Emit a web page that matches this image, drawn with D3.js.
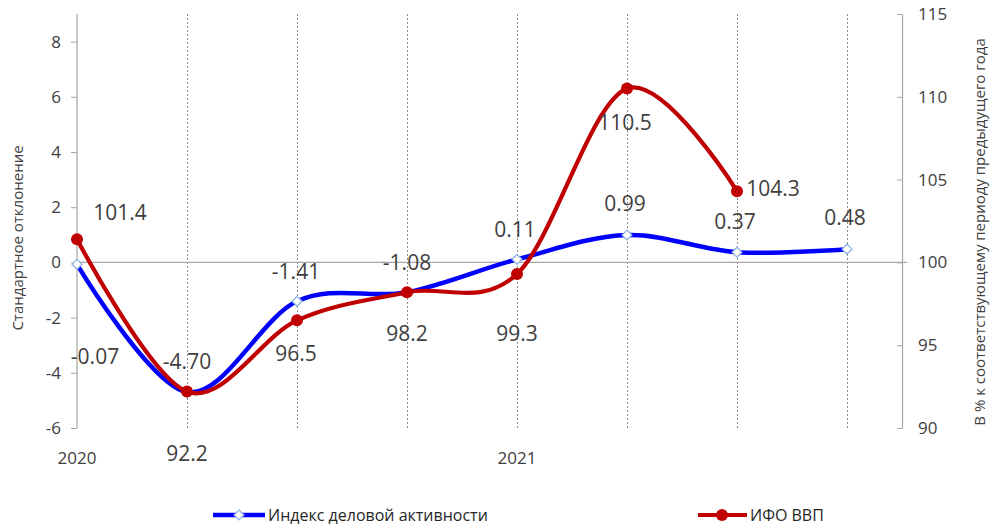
<!DOCTYPE html>
<html>
<head>
<meta charset="utf-8">
<script src="https://cdn.jsdelivr.net/npm/d3@7"></script>
<style>
  html, body { margin: 0; padding: 0; background: #fff; }
  svg { display: block; font-family: "Open Sans", "Noto Sans", sans-serif; }
</style>
</head>
<body>
<svg id="chart" width="993" height="529"></svg>
<script>
// Quarterly series, 2020 Q1 .. 2021 Q4
const quarters = [0, 1, 2, 3, 4, 5, 6, 7];
const yearLabels = [{ q: 0, text: "2020" }, { q: 4, text: "2021" }];

// Business activity index (standard deviation, left axis)
const activityIndex = [-0.07, -4.70, -1.41, -1.08, 0.11, 0.99, 0.37, 0.48];
const activityLabels = ["-0.07", "-4.70", "-1.41", "-1.08", "0.11", "0.99", "0.37", "0.48"];

// GDP physical volume index (% of same period last year, right axis)
const gdpIndex = [101.4, 92.2, 96.5, 98.2, 99.3, 110.5, 104.3];
const gdpLabels = ["101.4", "92.2", "96.5", "98.2", "99.3", "110.5", "104.3"];

const leftTicks = [-6, -4, -2, 0, 2, 4, 6, 8];
const rightTicks = [90, 95, 100, 105, 110, 115];

// Label offsets from each point, in pixels [dx, dy]
const activityLabelOffset = [[18, 92], [0, -31], [-1, -30], [0, -30], [-2, -30], [-2, -32], [-2, -31], [-2, -32]];
const gdpLabelOffset = [[43, -27], [0, 61], [-1, 33], [0, 41], [0, 59], [-2, 33], [36, -3]];

const svg = d3.select("#chart");

const x = d3.scaleLinear().domain([0, 7.5]).range([77, 902]);
const yL = d3.scaleLinear().domain([-6, 9]).range([428, 14]);
const yR = d3.scaleLinear().domain([90, 115]).range([428, 14]);

const axisColor = "#a6a6a6";
const gridColor = "#8c8c8c";
const textColor = "#404040";
const blue = "#0000ff";
const red = "#c00000";
const plain = d => String(d); // hyphen-minus for negatives

// Vertical dotted gridlines at each quarter
svg.append("g").selectAll("line")
  .data(quarters.slice(1))
  .join("line")
  .attr("x1", d => x(d) + 0.5).attr("x2", d => x(d) + 0.5)
  .attr("y1", yL.range()[1]).attr("y2", yL.range()[0])
  .attr("stroke", gridColor).attr("stroke-width", 1)
  .attr("stroke-dasharray", "2,2");

// Zero line (category axis)
svg.append("line")
  .attr("x1", x(0)).attr("x2", x(7.5) + 5)
  .attr("y1", yL(0)).attr("y2", yL(0))
  .attr("stroke", axisColor).attr("stroke-width", 1.2);

// Left axis
const leftAxis = svg.append("g")
  .attr("transform", `translate(${x(0)},0)`)
  .call(d3.axisLeft(yL).tickValues(leftTicks).tickSize(6).tickPadding(10).tickFormat(plain));
leftAxis.select(".domain").attr("stroke", axisColor).attr("stroke-width", 1.2)
  .attr("d", `M-0,${yL.range()[0]}V${yL.range()[1]}`);
leftAxis.selectAll(".tick line").attr("stroke", axisColor);
leftAxis.selectAll(".tick text").attr("fill", textColor).style("font-size", "17px")
  .style("font-family", "'Open Sans', sans-serif");

// Right axis
const rightAxis = svg.append("g")
  .attr("transform", `translate(${x(7.5)},0)`)
  .call(d3.axisRight(yR).tickValues(rightTicks).tickSizeInner(-5).tickSizeOuter(0).tickPadding(16).tickFormat(plain));
rightAxis.select(".domain").attr("stroke", axisColor).attr("stroke-width", 1.2);
rightAxis.selectAll(".tick line").attr("stroke", axisColor);
rightAxis.selectAll(".tick text").attr("fill", textColor).style("font-size", "17px")
  .style("font-family", "'Open Sans', sans-serif");

// Year labels under the plot
svg.append("g").selectAll("text")
  .data(yearLabels)
  .join("text")
  .attr("x", d => x(d.q)).attr("y", 457)
  .attr("text-anchor", "middle").attr("dominant-baseline", "central")
  .attr("fill", textColor).style("font-size", "17px")
  .text(d => d.text);

// Axis titles
svg.append("text")
  .attr("transform", "translate(17,238) rotate(-90)")
  .attr("text-anchor", "middle").attr("dominant-baseline", "central")
  .attr("fill", textColor).style("font-size", "15px")
  .text("Стандартное отклонение");
svg.append("text")
  .attr("transform", "translate(979,232) rotate(-90)")
  .attr("text-anchor", "middle").attr("dominant-baseline", "central")
  .attr("fill", textColor).style("font-size", "15px")
  .text("В % к соответствующему периоду предыдущего года");

const curve = d3.curveCardinal.tension(0);

// Business activity line + diamond markers
const activityLine = d3.line()
  .x((d, i) => x(quarters[i]))
  .y(d => yL(d))
  .curve(curve);
svg.append("path")
  .datum(activityIndex)
  .attr("d", activityLine)
  .attr("fill", "none").attr("stroke", blue).attr("stroke-width", 4.5)
  .attr("stroke-linejoin", "round");

const diamond = d3.symbol().type(d3.symbolDiamond2).size(62);
svg.append("g").selectAll("path")
  .data(activityIndex)
  .join("path")
  .attr("d", diamond)
  .attr("transform", (d, i) => `translate(${x(quarters[i])},${yL(d)})`)
  .attr("fill", "#fff").attr("stroke", "#8fb4e3").attr("stroke-width", 1.3);

// GDP line + circle markers
const gdpLine = d3.line()
  .x((d, i) => x(quarters[i]))
  .y(d => yR(d))
  .curve(curve);
svg.append("path")
  .datum(gdpIndex)
  .attr("d", gdpLine)
  .attr("fill", "none").attr("stroke", red).attr("stroke-width", 4.2)
  .attr("stroke-linejoin", "round");

svg.append("g").selectAll("circle")
  .data(gdpIndex)
  .join("circle")
  .attr("cx", (d, i) => x(quarters[i]))
  .attr("cy", d => yR(d))
  .attr("r", 6)
  .attr("fill", red);

// Data labels
svg.append("g").selectAll("text")
  .data(activityIndex)
  .join("text")
  .attr("x", (d, i) => x(quarters[i]) + activityLabelOffset[i][0])
  .attr("y", (d, i) => yL(d) + activityLabelOffset[i][1])
  .attr("text-anchor", "middle").attr("dominant-baseline", "central")
  .attr("fill", textColor).style("font-size", "21px")
  .text((d, i) => activityLabels[i]);

svg.append("g").selectAll("text")
  .data(gdpIndex)
  .join("text")
  .attr("x", (d, i) => x(quarters[i]) + gdpLabelOffset[i][0])
  .attr("y", (d, i) => yR(d) + gdpLabelOffset[i][1])
  .attr("text-anchor", "middle").attr("dominant-baseline", "central")
  .attr("fill", textColor).style("font-size", "21px")
  .text((d, i) => gdpLabels[i]);

// Legend
const legend = svg.append("g").attr("transform", "translate(0,515)");
legend.append("line").attr("x1", 213).attr("x2", 265).attr("y1", 0).attr("y2", 0)
  .attr("stroke", blue).attr("stroke-width", 4.5);
legend.append("path").attr("d", diamond).attr("transform", "translate(239,0)")
  .attr("fill", "#fff").attr("stroke", "#8fb4e3").attr("stroke-width", 1.3);
legend.append("text").attr("x", 268).attr("y", 0).attr("dominant-baseline", "central")
  .attr("fill", "#262626").style("font-size", "16px")
  .text("Индекс деловой активности");
legend.append("line").attr("x1", 698).attr("x2", 747).attr("y1", 0).attr("y2", 0)
  .attr("stroke", red).attr("stroke-width", 4.2);
legend.append("circle").attr("cx", 722).attr("cy", 0).attr("r", 6).attr("fill", red);
legend.append("text").attr("x", 750).attr("y", 0).attr("dominant-baseline", "central")
  .attr("fill", "#262626").style("font-size", "16px")
  .text("ИФО ВВП");
</script>
</body>
</html>
